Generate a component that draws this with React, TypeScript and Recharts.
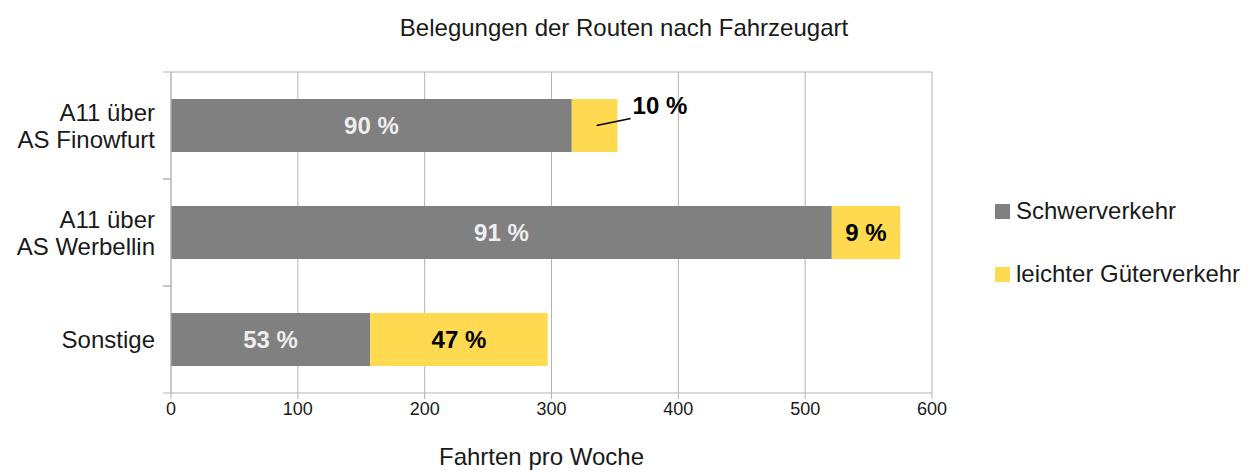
import { BarChart, Bar, XAxis, YAxis, CartesianGrid, LabelList } from "recharts";

const routes = ["A11 über\nAS Finowfurt", "A11 über\nAS Werbellin", "Sonstige"];
const schwer = [316, 521, 157];
const leicht = [36, 54, 140];
const xTicks = [0, 100, 200, 300, 400, 500, 600];
const seriesNames = ["Schwerverkehr", "leichter Güterverkehr"];

const GRAY = "#808080";
const YELLOW = "#ffd950";
const LINE = "#b3b3b3";
const FONT = "'Liberation Sans', Arial, sans-serif";

const data = routes.map((route, i) => ({
  route,
  schwer: schwer[i],
  leicht: leicht[i],
  pS: Math.round((schwer[i] / (schwer[i] + leicht[i])) * 100),
  pL: Math.round((leicht[i] / (schwer[i] + leicht[i])) * 100),
}));

const BAND = 107;

function RouteTick(props: any) {
  const { x, y, payload } = props;
  const lines = String(payload.value).split("\n");
  const step = 27;
  const y0 = y - ((lines.length - 1) * step) / 2;
  return (
    <g>
      <line x1={x} x2={x + 8} y1={y - BAND / 2} y2={y - BAND / 2} stroke={LINE} />
      <line x1={x} x2={x + 8} y1={y + BAND / 2} y2={y + BAND / 2} stroke={LINE} />
      <text textAnchor="end" fontFamily={FONT} fontSize={24} fill="#1a1a1a">
        {lines.map((l, i) => (
          <tspan key={i} x={x - 8} y={y0 + i * step} dy="0.36em">{l}</tspan>
        ))}
      </text>
    </g>
  );
}

function InnerLabel(color: string) {
  return (props: any) => {
    const { x, y, width, height, value } = props;
    return (
      <text x={x + width / 2} y={y + height / 2} dy="0.36em" textAnchor="middle" fontFamily={FONT}
        fontSize={24} fontWeight="bold" fill={color}>{value} %</text>
    );
  };
}

function LightLabel(props: any) {
  const { x, y, width, height, value, index } = props;
  const cx = x + width / 2;
  const cy = y + height / 2;
  if (index === 0) {
    return (
      <g>
        <line x1={cx + 2} y1={cy} x2={cx + 36} y2={cy - 7} stroke="#000" strokeWidth={1.5} />
        <text x={cx + 38} y={cy - 20} dy="0.36em" fontFamily={FONT} fontSize={24} fontWeight="bold" fill="#000">{value} %</text>
      </g>
    );
  }
  return (
    <text x={cx} y={cy} dy="0.36em" textAnchor="middle" fontFamily={FONT} fontSize={24} fontWeight="bold" fill="#000">{value} %</text>
  );
}

function LegendBox() {
  const colors = [GRAY, YELLOW];
  return (
    <div style={{ position: "absolute", left: 995, top: 196, fontFamily: FONT, fontSize: 24, color: "#1a1a1a" }}>
      {seriesNames.map((name, i) => (
        <div key={i} style={{ display: "flex", alignItems: "center", height: 30, marginBottom: i === 0 ? 33 : 0 }}>
          <span style={{ width: 15, height: 15, background: colors[i], display: "inline-block", marginRight: 6 }} />
          <span>{name}</span>
        </div>
      ))}
    </div>
  );
}

export default function App() {
  return (
    <div style={{ position: "absolute", left: 0, top: 0, width: 1248, height: 472, background: "#fff" }}>
      <div style={{ position: "absolute", left: 0, top: 13, width: 1248, textAlign: "center", fontFamily: FONT, fontSize: 24, color: "#1a1a1a", lineHeight: "30px" }}>
        Belegungen der Routen nach Fahrzeugart
      </div>
      <BarChart width={1248} height={472} data={data} layout="vertical"
        margin={{ top: 71, right: 316, bottom: 0, left: 0 }} barSize={53}>
        <CartesianGrid horizontal={false} stroke={LINE} />
        <XAxis type="number" domain={[0, 600]} ticks={xTicks} height={79} stroke={LINE}
          tick={{ fill: "#1a1a1a", fontSize: 18, fontFamily: FONT }} tickSize={6} tickMargin={3}
          label={{ value: "Fahrten pro Woche", position: "insideBottom", offset: 7, dx: -10, fill: "#1a1a1a", fontSize: 24, fontFamily: FONT }} />
        <XAxis xAxisId="top" orientation="top" type="number" domain={[0, 600]} height={1}
          tick={false} tickLine={false} stroke={LINE} />
        <YAxis type="category" dataKey="route" width={171} stroke={LINE} tickLine={false}
          tick={<RouteTick />} tickSize={0} tickMargin={8} />
        <Bar dataKey="schwer" stackId="a" fill={GRAY} isAnimationActive={false} name={seriesNames[0]}>
          <LabelList dataKey="pS" content={InnerLabel("#eeeeee")} />
        </Bar>
        <Bar dataKey="leicht" stackId="a" fill={YELLOW} isAnimationActive={false} name={seriesNames[1]}>
          <LabelList dataKey="pL" content={LightLabel} />
        </Bar>
      </BarChart>
      <LegendBox />
    </div>
  );
}
